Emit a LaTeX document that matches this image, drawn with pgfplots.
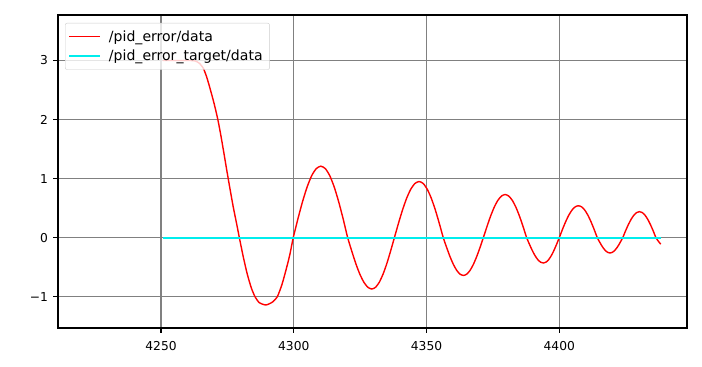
\documentclass[border=0pt]{standalone}
\usepackage{fontspec}
\setmainfont{DejaVu Sans}
\usepackage{pgfplots}
\pgfplotsset{compat=1.18}
\definecolor{mplred}{rgb}{1,0,0}
\definecolor{tcyan}{rgb}{0,0.93,0.93}
\begin{document}
\begin{tikzpicture}
\begin{axis}[
  set layers=standard,
  scale only axis,
  width=629bp, height=313bp,
  xmin=4211.2, xmax=4448.1,
  ymin=-1.53, ymax=3.77,
  axis line style={black, line width=1.1bp},
  grid=major,
  major grid style={color=gray, line width=1.1bp},
  tick align=outside,
  major tick length=4.9bp,
  tick style={black, line width=1.1bp},
  xtick pos=left, ytick pos=left,
  xtick={4250,4300,4350,4400},
  xticklabels={4250,4300,4350,4400},
  ytick={-1,0,1,2,3},
  yticklabels={−1,0,1,2,3},
  /pgf/number format/assume math mode=true,
  tick label style={font=\fontsize{12.3}{14}\selectfont, inner sep=0pt},
  xticklabel style={yshift=-8bp},
  yticklabel style={xshift=-5bp},
  legend cell align=left,
  legend image code/.code={\draw[#1] (0bp,0bp) -- (31bp,0bp);},
  legend style={at={(axis description cs:0,1)}, anchor=north west,
    xshift=7bp, yshift=-8bp,
    font=\fontsize{14.1}{16}\selectfont,
    draw=black!20, rounded corners=2bp, fill=white,
    fill opacity=0.8, text opacity=1,
    inner xsep=3bp, inner ysep=3bp,
    row sep=-0.8bp,
    nodes={inner xsep=4bp, inner ysep=4.2bp},
    /tikz/every odd column/.append style={column sep=4bp}},
]
\addplot[draw=mplred, line width=1.4bp, smooth, tension=0.4] coordinates {
(4250.6,3.0) (4256,3.0) (4261,3.0) (4263,2.99) (4264.5,2.95)
(4265.9,2.87) (4267.2,2.72) (4268.5,2.52) (4270,2.27) (4271.4,2.0)
(4272.5,1.74) (4273.5,1.48) (4274.4,1.24) (4275.3,1.0) (4276.2,0.77)
(4277.2,0.52) (4278.5,0.23) (4279.5,0)
(4281,-0.33) (4282.5,-0.62) (4284,-0.85) (4285.4,-1.0) (4287,-1.10)
(4289.5,-1.14) (4292,-1.09) (4293.8,-1.0) (4295.5,-0.80) (4297,-0.56)
(4298.5,-0.29) (4299.8,0)
(4301.53,0.313) (4303.27,0.605) (4305.0,0.855) (4306.73,1.048) (4308.47,1.169) (4310.2,1.21)
(4311.88,1.169) (4313.57,1.048) (4315.25,0.855) (4316.93,0.605) (4318.62,0.313) (4320.3,0)
(4321.82,-0.225) (4323.33,-0.435) (4324.85,-0.615) (4326.37,-0.753) (4327.88,-0.840) (4329.4,-0.87)
(4330.82,-0.840) (4332.23,-0.753) (4333.65,-0.615) (4335.07,-0.435) (4336.48,-0.225) (4337.9,0)
(4339.45,0.246) (4341.0,0.475) (4342.55,0.672) (4344.1,0.823) (4345.65,0.918) (4347.2,0.95)
(4348.72,0.918) (4350.23,0.823) (4351.75,0.672) (4353.27,0.475) (4354.78,0.246) (4356.3,0)
(4357.57,-0.166) (4358.83,-0.32) (4360.1,-0.452) (4361.37,-0.554) (4362.63,-0.618) (4363.9,-0.64)
(4365.15,-0.618) (4366.4,-0.554) (4367.65,-0.452) (4368.9,-0.32) (4370.15,-0.166) (4371.4,0)
(4372.77,0.189) (4374.13,0.365) (4375.5,0.516) (4376.87,0.632) (4378.23,0.705) (4379.6,0.73)
(4380.95,0.705) (4382.3,0.632) (4383.65,0.516) (4385.0,0.365) (4386.35,0.189) (4387.7,0)
(4388.75,-0.111) (4389.8,-0.215) (4390.85,-0.304) (4391.9,-0.372) (4392.95,-0.415) (4394.0,-0.43)
(4395,-0.415) (4396,-0.372) (4397,-0.304) (4398,-0.215) (4399,-0.111) (4400,0)
(4401.2,0.14) (4402.4,0.27) (4403.6,0.382) (4404.8,0.468) (4406.0,0.522) (4407.2,0.54)
(4408.38,0.522) (4409.57,0.468) (4410.75,0.382) (4411.93,0.27) (4413.12,0.14) (4414.3,0)
(4415.1,-0.067) (4415.9,-0.13) (4416.7,-0.184) (4417.5,-0.225) (4418.3,-0.251) (4419.1,-0.26)
(4419.9,-0.251) (4420.7,-0.225) (4421.5,-0.184) (4422.3,-0.13) (4423.1,-0.067) (4423.9,0)
(4424.95,0.114) (4426.0,0.22) (4427.05,0.311) (4428.1,0.381) (4429.15,0.425) (4430.2,0.44)
(4431.23,0.425) (4432.27,0.381) (4433.3,0.311) (4434.33,0.22) (4435.37,0.114) (4436.4,0)
(4437.3,-0.06) (4438.2,-0.11)
};
\addlegendentry{/pid\_error/data}
\addplot[draw=tcyan, line width=1.8bp, mark=none] coordinates {
(4250.6,0) (4300,0) (4350,0) (4400,0) (4438.2,0)};
\addlegendentry{/pid\_error\_target/data}
\end{axis}
\path (current axis.south west) ++(-58bp,-39bp) coordinate (bbA);
\path (current axis.north east) ++(15bp,15bp) coordinate (bbB);
\path (bbA) rectangle (bbB);
\end{tikzpicture}
\end{document}
